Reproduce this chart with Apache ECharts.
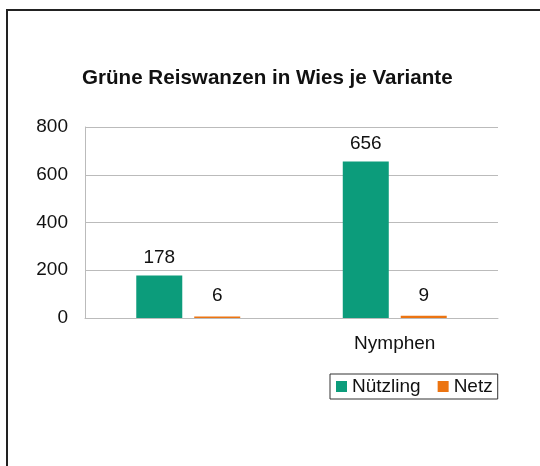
<!DOCTYPE html>
<html><head><meta charset="utf-8">
<script src="https://cdn.jsdelivr.net/npm/echarts@6/dist/echarts.min.js"></script>
<style>html,body{margin:0;padding:0;background:#fff}#c{width:540px;height:466px}</style>
</head><body><div id="c"></div>
<script>
const categories = ["", "Nymphen"];
const nuetzling = [178, 656];
const netz = [6, 9];
const seriesNames = ["Nützling", "Netz"];
const titleText = "Grüne Reiswanzen in Wies je Variante";

const font = "'Liberation Sans', Arial, Helvetica, sans-serif";
const chart = echarts.init(document.getElementById('c'), null, {renderer: 'canvas'});
chart.setOption({
  animation: false,
  backgroundColor: '#fff',
  graphic: [{
    type: 'rect', shape: {x: 7, y: 10, width: 560, height: 480},
    style: {fill: 'none', stroke: '#222', lineWidth: 2}, silent: true
  }],
  title: {
    text: titleText, left: 77, top: 63,
    textStyle: {fontFamily: font, fontSize: 20.6, fontWeight: 'bold', color: '#111'}
  },
  grid: {left: 85, right: 42, top: 127, bottom: 148},
  legend: {
    left: 330, top: 374,
    data: seriesNames,
    icon: 'rect', itemWidth: 11, itemHeight: 11, itemGap: 17,
    padding: [3, 5, 3, 6],
    borderColor: '#333', borderWidth: 1,
    textStyle: {fontFamily: font, fontSize: 19, color: '#111', padding: [0, 0, 0, 0]}
  },
  xAxis: {
    type: 'category', data: categories,
    axisLine: {lineStyle: {color: '#bbb'}},
    axisTick: {show: false},
    axisLabel: {fontFamily: font, fontSize: 19, color: '#111', margin: 16}
  },
  yAxis: {
    type: 'value', min: 0, max: 800, interval: 200,
    axisLine: {show: true, lineStyle: {color: '#bbb'}},
    axisTick: {show: false},
    splitLine: {lineStyle: {color: '#bbb'}},
    axisLabel: {fontFamily: font, fontSize: 19, color: '#111', margin: 17}
  },
  series: [
    {name: seriesNames[0], type: 'bar', data: nuetzling, barWidth: 46, barGap: '26%',
     itemStyle: {color: '#0c9c7b'},
     label: {show: true, position: 'top', distance: 8, fontFamily: font, fontSize: 19, color: '#111'}},
    {name: seriesNames[1], type: 'bar', data: netz, barWidth: 46,
     itemStyle: {color: '#ec7411'},
     label: {show: true, position: 'top', distance: 11, fontFamily: font, fontSize: 19, color: '#111'}}
  ]
});
</script></body></html>
